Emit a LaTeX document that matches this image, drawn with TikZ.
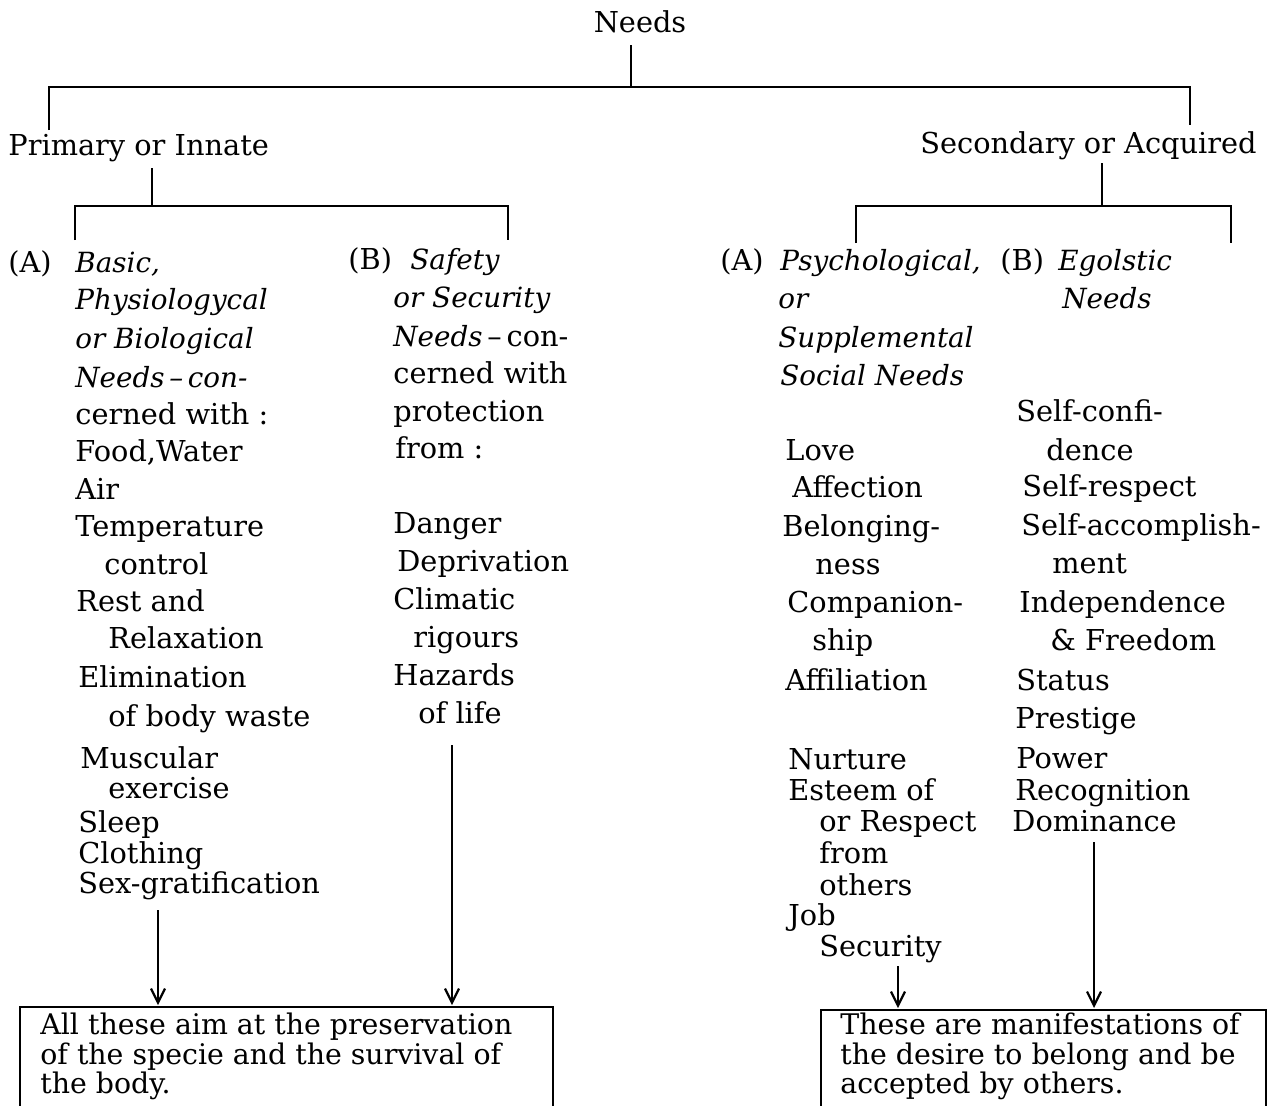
\documentclass[tikz,border=0pt]{standalone}
\usepackage{fontspec}
\setmainfont{DejaVu Serif}
\usetikzlibrary{arrows.meta}
\newcommand\Tx[5][txt]{\node[#1] (#2) at (#3,#4+10) {#5};}
\begin{document}
\begin{tikzpicture}[x=0.5pt,y=-0.5pt,
  txt/.style={anchor=base west,inner sep=0pt,font=\fontsize{14.4}{16}\selectfont},
  it/.style={txt,font=\fontsize{13.9}{16}\selectfont\itshape},
  boxtxt/.style={anchor=north west,inner sep=0pt,align=left,font=\fontsize{14.2}{14.7}\selectfont},
  ln/.style={line width=1.2pt},
  arr/.style={line width=1.1pt,-{Straight Barb[length=7pt,width=7pt]}},
  bx/.style={line width=1.2pt}]
\clip (0,0) rectangle (1276,1105);
\fill[white] (0,0) rectangle (1276,1105);
% top levels
\node[txt,anchor=base] (needs) at (640,32) {Needs};
\Tx{prim}{8}{145}{Primary or Innate}
\Tx{sec}{920}{143}{Secondary or Acquired}
\coordinate (n0) at (631,45); \coordinate (n1) at (631,87);
\coordinate (nl) at (49,87); \coordinate (nr) at (1190,87);
\coordinate (nlb) at (49,130); \coordinate (nrb) at (1190,125);
\draw[ln] (n0) -- (n1);
\draw[ln] (nlb) -- (nl) -- (nr) -- (nrb);
% primary branch
\coordinate (p0) at (152,168); \coordinate (p1) at (152,206);
\coordinate (pl) at (75,206); \coordinate (pr) at (508,206);
\coordinate (plb) at (75,240); \coordinate (prb) at (508,240);
\draw[ln] (p0) -- (p1);
\draw[ln] (plb) -- (pl) -- (pr) -- (prb);
% secondary branch
\coordinate (s0) at (1102,163); \coordinate (s1) at (1102,206);
\coordinate (sl) at (856,206); \coordinate (sr) at (1231,206);
\coordinate (slb) at (856,243); \coordinate (srb) at (1231,243);
\draw[ln] (s0) -- (s1);
\draw[ln] (slb) -- (sl) -- (sr) -- (srb);
% column A left
\Tx{aA}{8}{262}{(A)}
\Tx[it]{a1}{75}{262}{Basic,}
\Tx[it]{a2}{75}{299}{Physiologycal}
\Tx[it]{a3}{75}{338}{or Biological}
\Tx[it]{a4}{75}{377}{Needs\,–\,con-}
\Tx{a5}{75}{414}{cerned with :}
\Tx{a6}{75}{451}{Food,Water}
\Tx{a7}{75}{489}{Air}
\Tx{a8}{75}{526}{Temperature}
\Tx{a9}{104}{564}{control}
\Tx{a10}{76}{601}{Rest and}
\Tx{a11}{108}{638}{Relaxation}
\Tx{a12}{78}{677}{Elimination}
\Tx{a13}{108}{716}{of body waste}
\Tx{a14}{80}{758}{Muscular}
\Tx{a15}{108}{788}{exercise}
\Tx{a16}{78}{822}{Sleep}
\Tx{a17}{78}{853}{Clothing}
\Tx{a18}{78}{883}{Sex-gratification}
% column B left
\Tx{bB}{348}{259}{(B)}
\Tx[it]{b1}{410}{259}{Safety}
\Tx[it]{b2}{393}{297}{or Security}
\node[txt] (b3) at (393,346) {{\fontsize{13.9}{16}\selectfont\itshape Needs}\,–\,con-};
\Tx{b4}{393}{373}{cerned with}
\Tx{b5}{393}{411}{protection}
\Tx{b6}{395}{448}{from :}
\Tx{b7}{393}{523}{Danger}
\Tx{b8}{397}{561}{Deprivation}
\Tx{b9}{393}{599}{Climatic}
\Tx{b10}{413}{637}{rigours}
\Tx{b11}{393}{675}{Hazards}
\Tx{b12}{418}{713}{of life}
% column A right
\Tx{cA}{720}{260}{(A)}
\Tx[it]{c1}{780}{260}{Psychological,}
\Tx[it]{c2}{778}{298}{or}
\Tx[it]{c3}{778}{337}{Supplemental}
\Tx[it]{c4}{780}{375}{Social Needs}
\Tx{c5}{785}{450}{Love}
\Tx{c6}{792}{487}{Affection}
\Tx{c7}{782}{526}{Belonging-}
\Tx{c8}{815}{564}{ness}
\Tx{c9}{787}{602}{Companion-}
\Tx{c10}{812}{640}{ship}
\Tx{c11}{785}{680}{Affiliation}
\Tx{c12}{788}{759}{Nurture}
\Tx{c13}{788}{790}{Esteem of}
\Tx{c14}{819}{821}{or Respect}
\Tx{c15}{819}{853}{from}
\Tx{c16}{819}{885}{others}
\Tx{c17}{788}{915}{Job}
\Tx{c18}{819}{946}{Security}
% column B right
\Tx{dB}{1000}{260}{(B)}
\Tx[it]{d1}{1058}{260}{Egolstic}
\Tx[it]{d2}{1062}{298}{Needs}
\Tx{d3}{1016}{411}{Self-confi-}
\Tx{d4}{1046}{450}{dence}
\Tx{d5}{1022}{486}{Self-respect}
\Tx{d6}{1021}{525}{Self-accomplish-}
\Tx{d7}{1052}{563}{ment}
\Tx{d8}{1019}{602}{Independence}
\Tx{d9}{1050}{640}{\&~Freedom}
\Tx{d10}{1016}{680}{Status}
\Tx{d11}{1015}{718}{Prestige}
\Tx{d12}{1016}{758}{Power}
\Tx{d13}{1015}{790}{Recognition}
\Tx{d14}{1012}{821}{Dominance}
% boxes
\draw[bx] (20,1120) -- (20,1007) -- (553,1007) -- (553,1120);
\node[boxtxt] (boxL) at (40,1013) {All these aim at the preservation\\of the specie and the survival of\\the body.};
\draw[bx] (821,1120) -- (821,1010) -- (1266,1010) -- (1266,1120);
\node[boxtxt] (boxR) at (840,1013) {These are manifestations of\\the desire to belong and be\\accepted by others.};
% arrows
\coordinate (ea1) at (158,910); \coordinate (ea2) at (158,1005);
\coordinate (eb1) at (452,745); \coordinate (eb2) at (452,1005);
\coordinate (ec1) at (898,966); \coordinate (ec2) at (898,1008);
\coordinate (ed1) at (1094,842); \coordinate (ed2) at (1094,1008);
\draw[arr] (ea1) -- (ea2);
\draw[arr] (eb1) -- (eb2);
\draw[arr] (ec1) -- (ec2);
\draw[arr] (ed1) -- (ed2);
\end{tikzpicture}
\end{document}
